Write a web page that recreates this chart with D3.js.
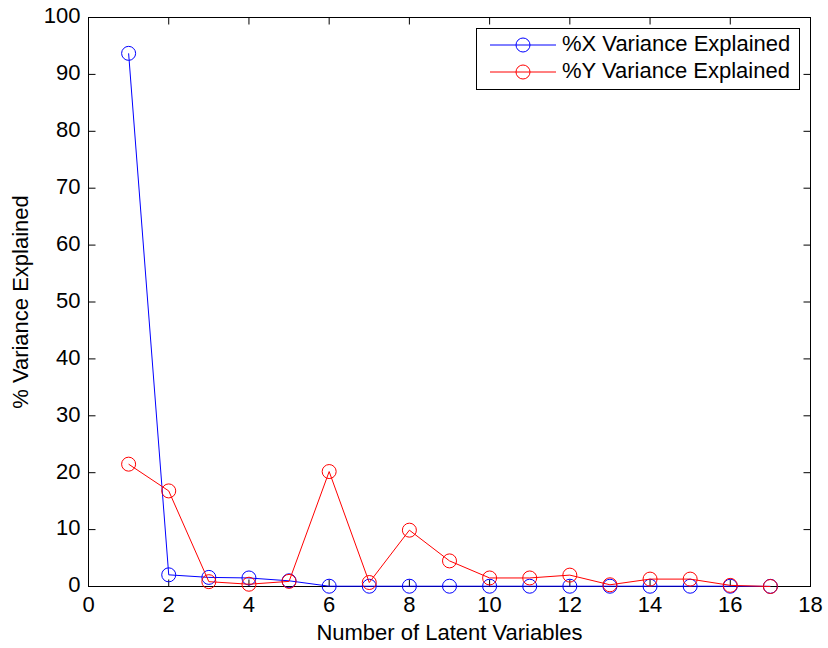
<!DOCTYPE html>
<html><head><meta charset="utf-8">
<script src="https://cdn.jsdelivr.net/npm/d3@7"></script>
<style>body{margin:0;background:#fff}svg{display:block}text{font-family:"Liberation Sans",Arial,sans-serif}</style>
</head><body>
<script>
const components = [1,2,3,4,5,6,7,8,9,10,11,12,13,14,15,16,17];
const xVariance = [93.7,2.05,1.6,1.5,1.0,0.05,0.05,0.05,0.05,0.05,0.05,0.05,0.05,0.05,0.05,0.05,0.03];
const yVariance = [21.5,16.8,0.85,0.4,0.9,20.2,0.7,9.9,4.5,1.5,1.5,2.0,0.3,1.3,1.3,0.2,0.0];
const xTicks = [0,2,4,6,8,10,12,14,16,18];
const yTicks = [0,10,20,30,40,50,60,70,80,90,100];
const seriesNames = ["%X Variance Explained","%Y Variance Explained"];
const seriesColors = ["#0000ff","#ff0000"];

const W=828,H=648;
const L=88.5,R=810.5,T=17.5,B=586.5;
const svg=d3.select("body").append("svg").attr("width",W).attr("height",H);
const x=d3.scaleLinear().domain([0,18]).range([L,R]);
const y=d3.scaleLinear().domain([0,100]).range([B,T]);
const fs=22, tl=7;

svg.append("rect").attr("x",L).attr("y",T).attr("width",R-L).attr("height",B-T).attr("fill","#fff").attr("stroke","#000").attr("stroke-width",1);

const gx=svg.append("g");
xTicks.forEach(t=>{
  gx.append("line").attr("x1",x(t)).attr("x2",x(t)).attr("y1",B).attr("y2",B-tl).attr("stroke","#000");
  gx.append("line").attr("x1",x(t)).attr("x2",x(t)).attr("y1",T).attr("y2",T+tl).attr("stroke","#000");
  gx.append("text").attr("x",x(t)).attr("y",B+20).attr("text-anchor","middle").attr("dominant-baseline","middle").attr("font-size",fs).text(t);
});
const gy=svg.append("g");
yTicks.forEach(t=>{
  gy.append("line").attr("x1",L).attr("x2",L+tl).attr("y1",y(t)).attr("y2",y(t)).attr("stroke","#000");
  gy.append("line").attr("x1",R).attr("x2",R-tl).attr("y1",y(t)).attr("y2",y(t)).attr("stroke","#000");
  gy.append("text").attr("x",L-8).attr("y",y(t)).attr("text-anchor","end").attr("dominant-baseline","middle").attr("font-size",fs).text(t);
});

svg.append("text").attr("x",(L+R)/2).attr("y",640).attr("text-anchor","middle").attr("font-size",fs).text("Number of Latent Variables");
svg.append("text").attr("transform",`translate(28,${(T+B)/2}) rotate(-90)`).attr("text-anchor","middle").attr("font-size",fs).text("% Variance Explained");

const line=d3.line().x((d,i)=>x(components[i])).y(d=>y(d));
[xVariance,yVariance].forEach((s,k)=>{
  svg.append("path").datum(s).attr("d",line).attr("fill","none").attr("stroke",seriesColors[k]).attr("stroke-width",1);
  svg.append("g").selectAll("circle").data(s).join("circle")
    .attr("cx",(d,i)=>x(components[i])).attr("cy",d=>y(d)).attr("r",7)
    .attr("fill","none").attr("stroke",seriesColors[k]).attr("stroke-width",1);
});

const lg=svg.append("g");
lg.append("rect").attr("x",476.5).attr("y",28.5).attr("width",323).attr("height",61).attr("fill","#fff").attr("stroke","#000");
seriesNames.forEach((n,k)=>{
  const ly=45+k*27;
  lg.append("line").attr("x1",490).attr("x2",556).attr("y1",ly).attr("y2",ly).attr("stroke",seriesColors[k]);
  lg.append("circle").attr("cx",523).attr("cy",ly).attr("r",7).attr("fill","none").attr("stroke",seriesColors[k]);
  lg.append("text").attr("x",562).attr("y",ly).attr("dominant-baseline","middle").attr("font-size",fs).text(n);
});
</script>
</body></html>
